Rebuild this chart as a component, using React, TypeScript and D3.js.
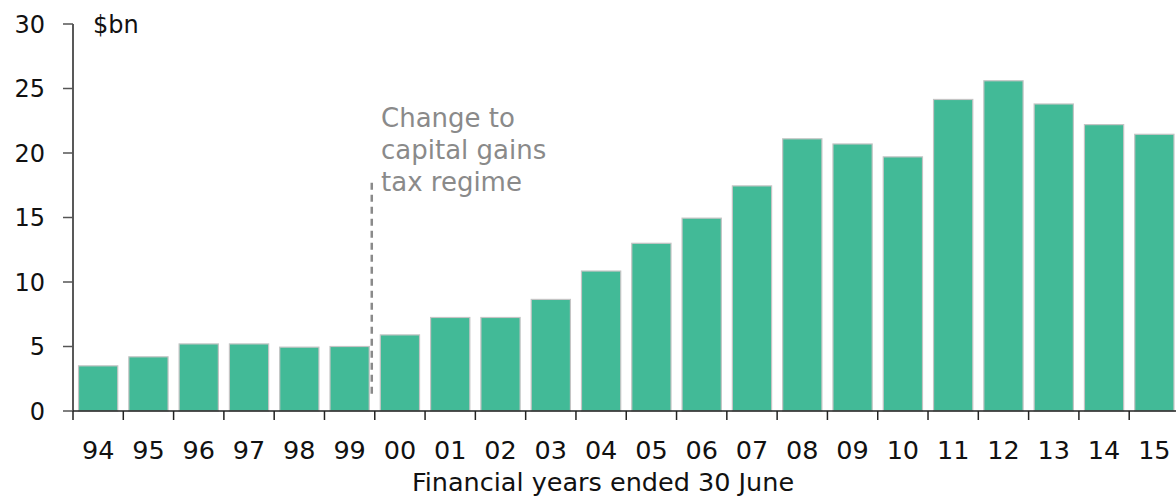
import React from "react";
import * as d3 from "d3";

const years = ["94","95","96","97","98","99","00","01","02","03","04","05","06","07","08","09","10","11","12","13","14","15"];
const values = [3.5,4.2,5.2,5.2,4.95,5.0,5.9,7.25,7.25,8.65,10.85,13.0,14.95,17.45,21.1,20.7,19.7,24.15,25.6,23.8,22.2,21.45];
const yTicks = [0,5,10,15,20,25,30];
const annotationLines = ["Change to","capital gains","tax regime"];
const dashTop = 17.7;
const dashBottom = 1.0;

const W = 1176, H = 501;
const FONT = "'DejaVu Sans', sans-serif";

export default function App() {
  const x = d3.scaleBand<string>().domain(years).range([73, 1179.5]).paddingInner(0.22).paddingOuter(0.11);
  const y = d3.scaleLinear().domain([0, 30]).range([411, 24]);
  const step = x.step();
  const x0 = 73;
  const dashX = x0 + 6 * step - 3;
  return (
    <svg width={W} height={H} style={{ position: "absolute", left: 0, top: 0, background: "#fff" }}>
      {years.map((yr, i) => (
        <rect key={yr} x={x(yr)!} y={y(values[i])} width={x.bandwidth()} height={y(0) - y(values[i])}
          fill="#42BA97" stroke="#c4c4c4" strokeWidth={1.2} />
      ))}
      {/* y axis */}
      <line x1={73} x2={73} y1={y(30)} y2={y(0)} stroke="#222" strokeWidth={1.5} />
      {yTicks.map(t => (
        <g key={t}>
          <line x1={63} x2={73} y1={y(t)} y2={y(t)} stroke="#555" strokeWidth={1.5} />
          <text x={45} y={y(t)} dy="0.36em" textAnchor="end" fontFamily={FONT} fontSize={24} fill="#111">{t}</text>
        </g>
      ))}
      <text x={93} y={y(30)} dy="0.36em" fontFamily={FONT} fontSize={24} fill="#111">$bn</text>
      {/* x axis */}
      <line x1={73} x2={W} y1={y(0)} y2={y(0)} stroke="#222" strokeWidth={1.5} />
      {d3.range(years.length + 1).map(k => (
        <line key={k} x1={x0 + k * step} x2={x0 + k * step} y1={y(0)} y2={y(0) + 9} stroke="#222" strokeWidth={1.5} />
      ))}
      {years.map(yr => (
        <text key={yr} x={x(yr)! + x.bandwidth() / 2} y={459} textAnchor="middle" fontFamily={FONT} fontSize={25.5} fill="#111">{yr}</text>
      ))}
      <text x={603} y={491} textAnchor="middle" fontFamily={FONT} fontSize={25.5} fill="#111">Financial years ended 30 June</text>
      {/* annotation */}
      <line x1={dashX} x2={dashX} y1={y(dashTop)} y2={y(dashBottom)} stroke="#8a8a8a" strokeWidth={2.5} strokeDasharray="7,5" />
      {annotationLines.map((l, i) => (
        <text key={l} x={381} y={127 + i * 32} fontFamily={FONT} fontSize={26} fill="#8a8a8a">{l}</text>
      ))}
    </svg>
  );
}
